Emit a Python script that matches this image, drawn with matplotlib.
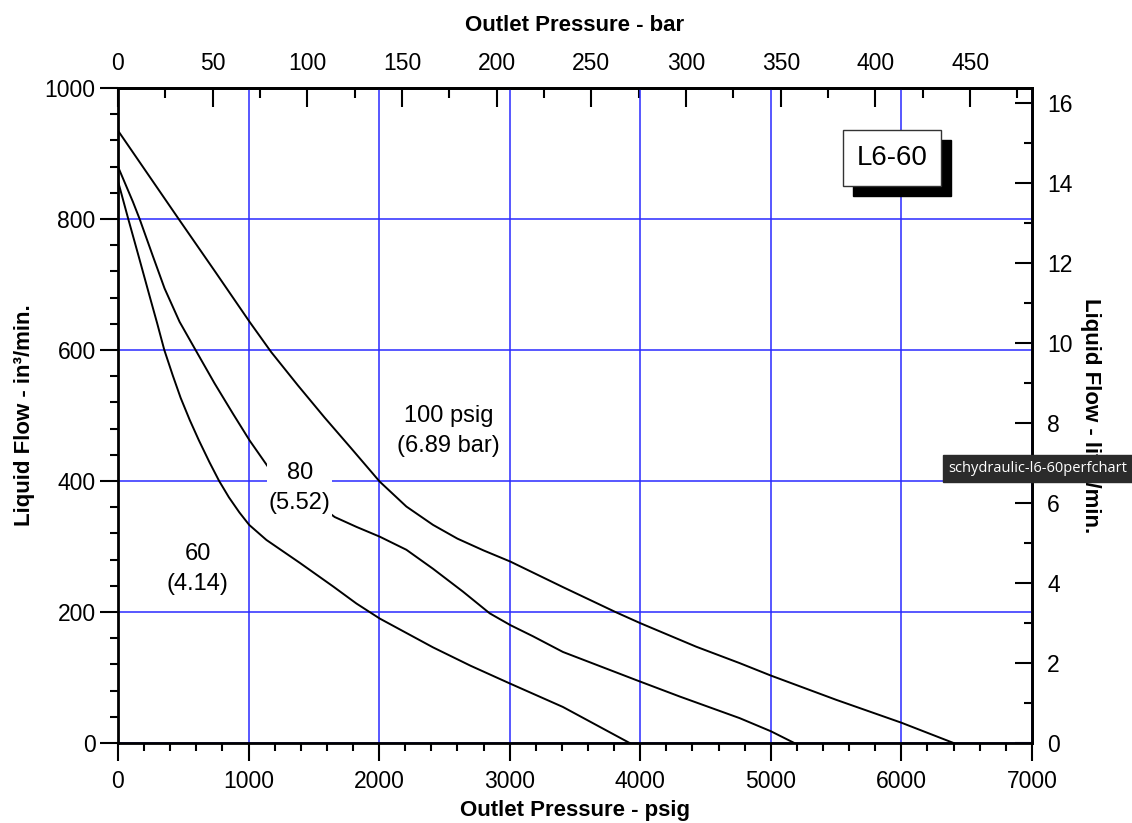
import matplotlib
matplotlib.use("Agg")
import matplotlib.pyplot as plt
from matplotlib.ticker import MultipleLocator
from matplotlib.patches import Rectangle

plt.rcParams['font.family'] = ['Liberation Sans', 'DejaVu Sans']

# curves: outlet pressure (psig) vs liquid flow (in^3/min)
p60 = [0, 79, 160, 240, 300, 355, 420, 480, 550, 620, 700, 775, 850, 930,
       1005, 1137, 1393, 1648, 1826, 2005, 2209, 2413, 2700, 3000, 3408, 3919]
q60 = [858, 800, 742, 684, 641, 600, 561, 527, 493, 462, 429, 400, 375, 352,
       333, 310, 275, 239, 213, 190, 168, 146, 118, 91, 55, 0]

p80 = [0, 115, 166, 268, 357, 472, 600, 740, 880, 1008, 1148, 1660, 1826,
       2005, 2209, 2413, 2643, 2847, 3005, 3178, 3408, 3970, 4302, 4761,
       5000, 5180]
q80 = [880, 826, 800, 743, 694, 643, 598, 549, 503, 462, 422, 345, 330,
       315, 295, 266, 231, 198, 180, 163, 139, 96, 71, 38,
       18, 0]

p100 = [0, 472, 750, 1008, 1173, 1378, 1582, 1786, 2005, 2209, 2413, 2600,
        2800, 3005, 3408, 3810, 4000, 4429, 4761, 5000, 5500, 6000, 6400]
q100 = [935, 798, 718, 643, 597, 546, 497, 450, 399, 361, 333, 312,
        294, 277, 238, 200, 183, 147, 122, 103, 66, 31, 0]

# label texts and where they sit (psig, in^3/min)
curve_labels = ["60\n(4.14)", "80\n(5.52)", "100 psig\n(6.89 bar)"]
label_pos = [(612, 266), (1393, 389), (2533, 476)]

PSI_PER_BAR = 14.5038
LPM_PER_CIPM = 0.016387

fig = plt.figure(figsize=(11.32, 8.23), dpi=100)
ax = fig.add_axes([0.1042, 0.0972, 0.8074, 0.7959])

ax.set_xlim(0, 7000)
ax.set_ylim(0, 1000)
ax.xaxis.set_major_locator(MultipleLocator(1000))
ax.xaxis.set_minor_locator(MultipleLocator(200))
ax.yaxis.set_major_locator(MultipleLocator(200))
ax.yaxis.set_minor_locator(MultipleLocator(40))
ax.tick_params(which='major', direction='out', length=13, width=1.5,
               labelsize=16.5, top=False, right=False)
ax.tick_params(which='minor', direction='out', length=6, width=1.5,
               top=False, right=False)
ax.tick_params(axis='x', which='major', pad=6.5)
ax.tick_params(axis='y', which='major', pad=3)
ax.grid(True, which='major', color='#2a2aff', lw=1.1)
for s in ax.spines.values():
    s.set_linewidth(2)

for p, q in [(p60, q60), (p80, q80), (p100, q100)]:
    ax.plot(p, q, color='black', lw=1.4, zorder=3)

for i, (txt, (x, y)) in enumerate(zip(curve_labels, label_pos)):
    box = dict(fc='white', ec='none', pad=1) if i == 1 else None
    ax.text(x, y, txt, ha='center', va='center', fontsize=17,
            linespacing=1.5, bbox=box, zorder=4)

# top axis in bar
top = ax.secondary_xaxis('top', functions=(lambda v: v / PSI_PER_BAR,
                                           lambda v: v * PSI_PER_BAR))
top.xaxis.set_major_locator(MultipleLocator(50))
top.xaxis.set_minor_locator(MultipleLocator(25))
top.tick_params(which='major', direction='in', length=14, width=1.5,
                labelsize=16.5, pad=9.5)
top.tick_params(which='minor', direction='in', length=7, width=1.5)
top.spines['top'].set_linewidth(2)

# right axis in liter/min
right = ax.secondary_yaxis('right', functions=(lambda v: v * LPM_PER_CIPM,
                                               lambda v: v / LPM_PER_CIPM))
right.yaxis.set_major_locator(MultipleLocator(2))
right.yaxis.set_minor_locator(MultipleLocator(1))
right.tick_params(which='major', direction='in', length=12, width=1.5,
                  labelsize=16.5, pad=11)
right.tick_params(which='minor', direction='in', length=6, width=1.5)
right.spines['right'].set_linewidth(2)

# axis titles
ax.text(0.5, -0.1023, 'Outlet Pressure - psig', transform=ax.transAxes,
        ha='center', va='center', fontsize=16, fontweight='bold')
ax.text(0.5, 1.095, 'Outlet Pressure - bar', transform=ax.transAxes,
        ha='center', va='center', fontsize=16, fontweight='bold')
ax.text(-0.1018, 0.5, 'Liquid Flow - in³/min.', transform=ax.transAxes,
        ha='center', va='center', rotation=90, fontsize=16, fontweight='bold')
ax.text(1.0646, 0.5, 'Liquid Flow - liter/min.', transform=ax.transAxes,
        ha='center', va='center', rotation=-90, fontsize=16, fontweight='bold')

# model tag with drop shadow
ax.add_patch(Rectangle((0.8041, 0.8351), 0.1072, 0.0855, transform=ax.transAxes,
                       fc='black', ec='black', zorder=5, clip_on=False))
ax.add_patch(Rectangle((0.7932, 0.8504), 0.1072, 0.0855, transform=ax.transAxes,
                       fc='white', ec='#333333', lw=1, zorder=6, clip_on=False))
ax.text(0.8468, 0.8932, 'L6-60', transform=ax.transAxes, ha='center',
        va='center', fontsize=20, zorder=7)

# browser tooltip captured in the screenshot
fig.text(0.917, 0.4307, 'schydraulic-l6-60perfchart', ha='center', va='center',
         fontsize=10.5, color='white', family=['Open Sans', 'DejaVu Sans'],
         bbox=dict(boxstyle='square,pad=0.4', fc='#2b2b2b', ec='#2b2b2b'),
         zorder=10)

fig.savefig('out.png', dpi=100)
